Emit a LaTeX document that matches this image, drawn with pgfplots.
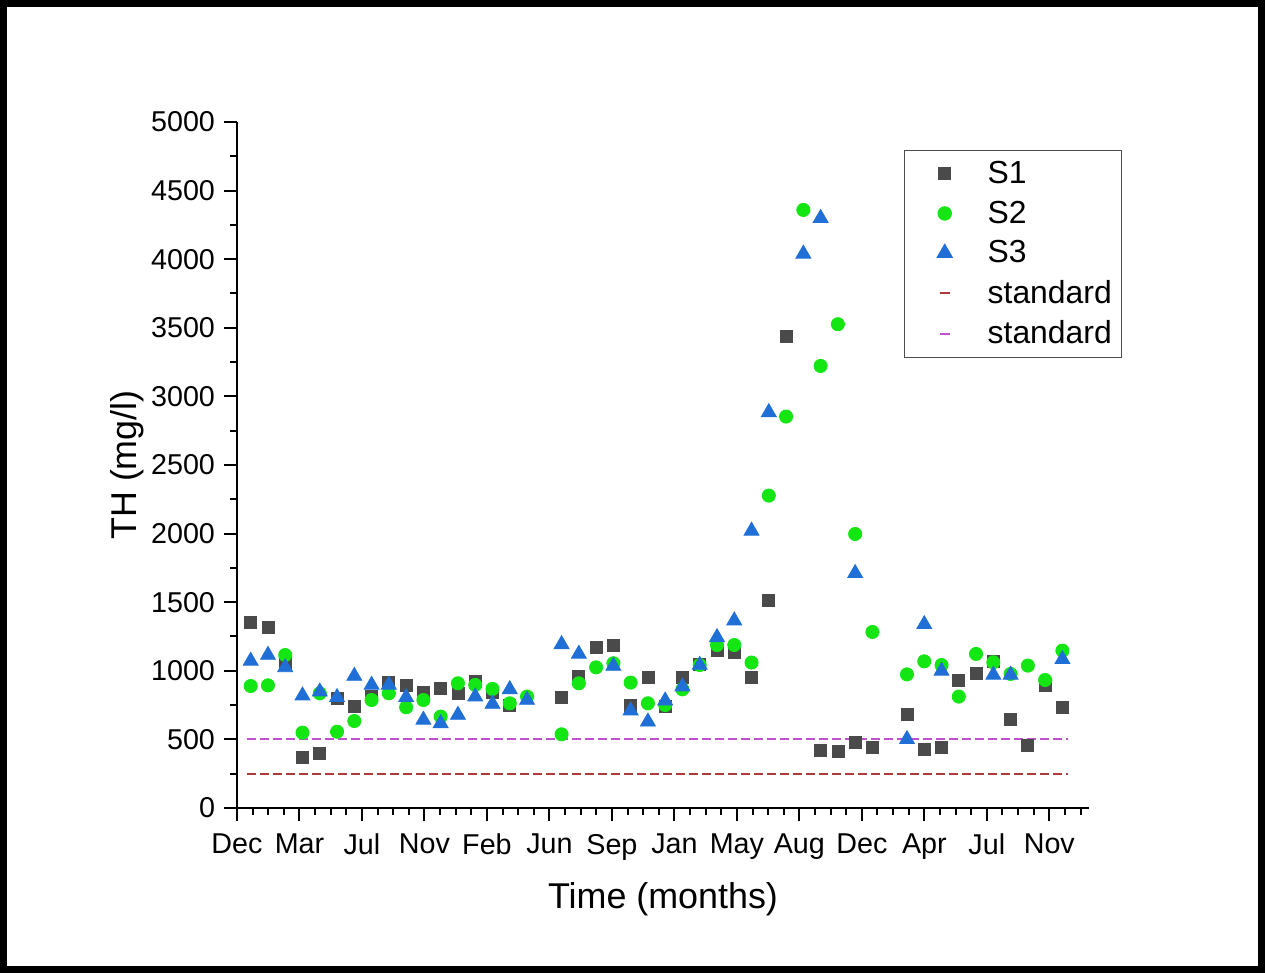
\documentclass[border=0pt]{standalone}
\usepackage{fontspec}
\setmainfont{Liberation Sans}
\usepackage{pgfplots}
\pgfplotsset{compat=1.18}
\definecolor{sone}{HTML}{4A4A4A}
\definecolor{stwo}{HTML}{14E614}
\definecolor{sthree}{HTML}{1F6FD6}
\definecolor{stdred}{HTML}{B03A3A}
\definecolor{stdmag}{HTML}{C050D0}

\pgfplotsset{
  legmark/.style={legend image code/.code={%
    \draw[mark repeat=2,mark phase=2,##1] plot coordinates {(0bp,0bp) (17bp,0bp) (34bp,0bp)};}},
  legline/.style={legend image code/.code={%
    \path[draw=none,fill=none] (0bp,0bp) -- (34bp,0bp);
    \draw[##1,solid] (14.5bp,0bp) -- (19.5bp,0bp);}},
}

\begin{document}
\begin{tikzpicture}
\useasboundingbox (0,0) rectangle (632.5bp,486.5bp);
\fill[white] (0,0) rectangle (632.5bp,486.5bp);
\draw[line width=3.5bp] (1.75bp,1.75bp) rectangle (630.75bp,484.75bp);
\begin{axis}[
  at={(118.5bp,82.5bp)}, anchor=south west,
  scale only axis, width=426bp, height=343bp,
  xmin=0.207, xmax=49.54, ymin=0, ymax=5000,
  axis x line*=bottom, axis y line*=left,
  axis line style={line width=1.2bp},
  tick style={line width=1bp, black},
  tick align=outside,
  major tick length=6.5bp, minor tick length=3.5bp,
  xtick={0.207,3.825,7.443,11.061,14.679,18.297,21.915,25.533,29.151,32.769,36.387,40.005,43.623,47.241},
  xticklabels={Dec,Mar,Jul,Nov,Feb,Jun,Sep,Jan,May,Aug,Dec,Apr,Jul,Nov},
  minor xtick={0.207,1.1115,...,49.5},
  ytick={0,500,...,5000},
  minor ytick={250,750,...,4750},
  tick label style={font=\fontsize{14.4}{17}\selectfont},
  xticklabel style={yshift=-3bp},
  yticklabel style={xshift=-1bp},
  /pgf/number format/assume math mode=true,
  /pgf/number format/set thousands separator={},
  xlabel={Time (months)},
  ylabel={TH (mg/l)},
  every axis x label/.style={at={(axis description cs:0.5,-0.1458)}, anchor=base,
    font=\fontsize{18}{21}\selectfont},
  every axis y label/.style={at={(axis description cs:-0.1185,0.5)}, anchor=base, rotate=90,
    font=\fontsize{18}{21}\selectfont},
  legend style={at={(rel axis cs:0.783,0.959)}, anchor=north west,
    draw=black!70, line width=0.6bp,
    font=\fontsize{16}{19}\selectfont,
    inner xsep=3bp, inner ysep=3.25bp, row sep=3.2bp,
    cells={anchor=west},
    /tikz/every odd column/.append style={column sep=2.5bp}},
]
\addplot[only marks, mark=square*, mark size=3bp, mark options={draw=sone, fill=sone}, legmark] coordinates {
(1,1354) (2,1315) (3,1055) (4,367) (5,399) (6,800) (7,744) (8,812) (9,916) (10,897)
(11,843) (12,872) (13,836) (14,921) (15,841) (16,750) (19,804) (20,962) (21,1171) (22,1188)
(23,746) (24,953) (25,744) (26,950) (27,1045) (28,1147) (29,1135) (30,953) (31,1516) (32,3436)
(34,418) (35,411) (36,476) (37,442) (39,683) (40,428) (41,440) (42,931) (43,982) (44,1067)
(45,646) (46,454) (47,894) (48,731)
};
\addlegendentry{S1}
\addplot[only marks, mark=*, mark size=3.3bp, mark options={draw=stwo, fill=stwo}, legmark] coordinates {
(1,889) (2,894) (3,1115) (4,549) (5,836) (6,556) (7,634) (8,787) (9,836) (10,734)
(11,787) (12,666) (13,909) (14,897) (15,868) (16,763) (17,812) (19,537) (20,909) (21,1025)
(22,1055) (23,914) (24,763) (25,751) (26,865) (27,1042) (28,1188) (29,1188) (30,1060) (31,2277)
(32,2853) (33,4359) (34,3222) (35,3526) (36,1997) (37,1283) (39,974) (40,1069) (41,1042) (42,812)
(43,1123) (44,1062) (45,977) (46,1038) (47,933) (48,1147)
};
\addlegendentry{S2}
\addplot[only marks, mark=triangle*, mark size=4.3bp, mark options={draw=sthree, fill=sthree}, legmark] coordinates {
(1,1072) (2,1115) (3,1025) (4,819) (5,848) (6,807) (7,962) (8,897) (9,897) (10,807)
(11,642) (12,617) (13,678) (14,812) (15,758) (16,865) (17,787) (19,1193) (20,1123) (22,1035)
(23,710) (24,629) (25,782) (26,885) (27,1042) (28,1244) (29,1366) (30,2020) (31,2884) (33,4039)
(34,4299) (36,1711) (39,501) (40,1339) (41,999) (44,970) (45,970) (48,1084)
};
\addlegendentry{S3}
\addplot[stdred, line width=1bp, dash pattern=on 4.5bp off 2bp, legline] coordinates {(0.77,250) (48.3,250)};
\addlegendentry{standard}
\addplot[stdmag, line width=1bp, dash pattern=on 4.5bp off 2bp, legline] coordinates {(0.77,500) (48.3,500)};
\addlegendentry{standard}
\end{axis}
\end{tikzpicture}
\end{document}
